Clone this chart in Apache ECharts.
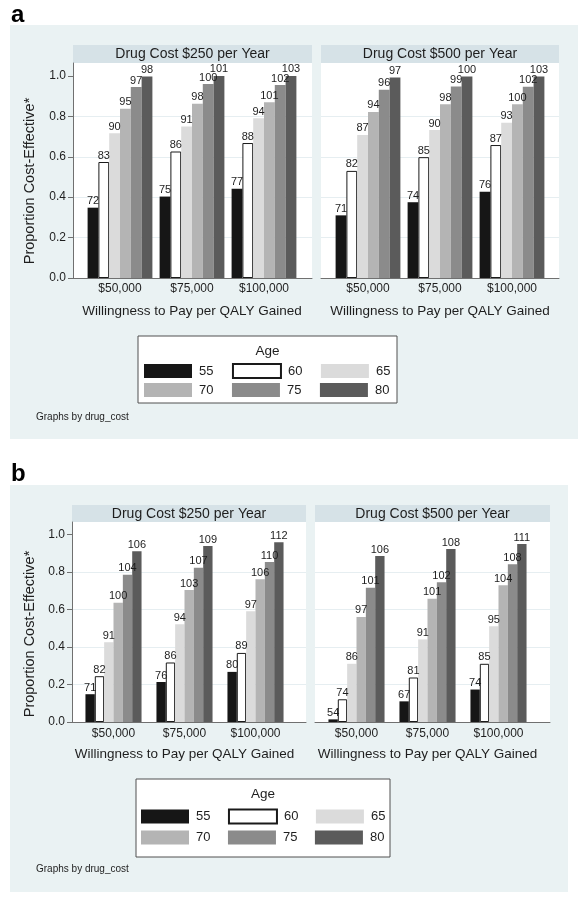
<!DOCTYPE html>
<html><head><meta charset="utf-8">
<script src="https://cdn.jsdelivr.net/npm/echarts@6/dist/echarts.min.js"></script>
<style>html,body{margin:0;padding:0;background:#fff}#c{width:588px;height:902px}</style>
</head><body><div id="c"></div>
<script>
const categories = ['$50,000', '$75,000', '$100,000'];
const ages = ['55', '60', '65', '70', '75', '80'];
const yTicks = [0, 0.2, 0.4, 0.6, 0.8, 1.0];
const facetTitles = ['Drug Cost $250 per Year', 'Drug Cost $500 per Year'];
const xTitle = 'Willingness to Pay per QALY Gained';
const yTitle = 'Proportion Cost-Effective*';
const legendTitle = 'Age';
const noteText = 'Graphs by drug_cost';

// one row per age (55..80), one value per WTP threshold
const a250Values = [
  [0.348, 0.403, 0.442],
  [0.574, 0.626, 0.668],
  [0.716, 0.750, 0.790],
  [0.838, 0.862, 0.870],
  [0.945, 0.960, 0.955],
  [0.997, 1.000, 1.000]
];
const a250Labels = [[72,75,77],[83,86,88],[90,91,94],[95,98,101],[97,100,102],[98,101,103]];
const a500Values = [
  [0.310, 0.375, 0.427],
  [0.530, 0.598, 0.658],
  [0.708, 0.732, 0.768],
  [0.822, 0.860, 0.860],
  [0.932, 0.948, 0.947],
  [0.992, 0.997, 0.997]
];
const a500Labels = [[71,74,76],[82,85,87],[87,90,93],[94,98,100],[96,99,102],[97,100,103]];
const b250Values = [
  [0.148, 0.213, 0.267],
  [0.244, 0.317, 0.368],
  [0.425, 0.521, 0.590],
  [0.635, 0.703, 0.760],
  [0.785, 0.822, 0.852],
  [0.910, 0.937, 0.957]
];
const b250Labels = [[71,76,80],[82,86,89],[91,94,97],[100,103,106],[104,107,110],[106,109,112]];
const b500Values = [
  [0.014, 0.110, 0.173],
  [0.121, 0.237, 0.310],
  [0.310, 0.440, 0.510],
  [0.560, 0.657, 0.728],
  [0.715, 0.745, 0.840],
  [0.884, 0.921, 0.948]
];
const b500Labels = [[54,67,74],[74,81,85],[86,91,95],[97,101,104],[101,102,108],[106,108,111]];

const ageColors = ['#161616', '#ffffff', '#dbdbdb', '#b4b4b4', '#8b8b8b', '#5b5b5b'];
const FONT = '"Liberation Sans", Arial, Helvetica, sans-serif';
const TXT = '#1e1e1e';
const AXIS = '#707070';

const panels = [
  { letter: 'a', letterY: 27, bg: [10, 25, 568, 414], stripTop: 45, stripH: 18, plotTop: 63, plotH: 215, yMax: 1.064,
    catGap: '10%', xNameGap: 26, xLabelMargin: 5,
    facets: [
      { values: a250Values, labels: a250Labels, title: facetTitles[0], bgLeft: 73, bgW: 239, barLeft: 84, barW: 216, showY: true },
      { values: a500Values, labels: a500Labels, title: facetTitles[1], bgLeft: 321, bgW: 238, barLeft: 332, barW: 216, showY: false }
    ],
    yTitleC: [30, 181],
    legendBox: [138, 336, 259, 67], legendTitleY: 351, legendRows: [363, 383], legendLeft: 144, legendGap: 18.5,
    noteY: 417 },
  { letter: 'b', letterY: 486, bg: [10, 485, 558, 407], stripTop: 505, stripH: 17, plotTop: 522, plotH: 200, yMax: 1.0655,
    catGap: '21%', xNameGap: 25, xLabelMargin: 6,
    facets: [
      { values: b250Values, labels: b250Labels, title: facetTitles[0], bgLeft: 72, bgW: 234, barLeft: 78, barW: 213, showY: true },
      { values: b500Values, labels: b500Labels, title: facetTitles[1], bgLeft: 315, bgW: 235, barLeft: 321, barW: 213, showY: false }
    ],
    yTitleC: [30, 634],
    legendBox: [136, 779, 254, 78], legendTitleY: 794, legendRows: [808.5, 830.5], legendLeft: 141, legendGap: 17.5,
    noteY: 869 }
];

const grid = [], xAxis = [], yAxis = [], series = [], legend = [], graphic = [];

panels.forEach(p => {
  graphic.push({ type: 'rect', z: -10, shape: { x: p.bg[0], y: p.bg[1], width: p.bg[2], height: p.bg[3] }, style: { fill: '#eaf2f3' } });
  graphic.push({ type: 'text', z: 10, x: 11, y: p.letterY, style: { text: p.letter, font: 'bold 24px ' + FONT, fill: '#000', verticalAlign: 'bottom', align: 'left' } });
  graphic.push({ type: 'text', z: 10, x: p.yTitleC[0], y: p.yTitleC[1], rotation: Math.PI / 2,
    style: { text: yTitle, font: '14.5px ' + FONT, fill: TXT, align: 'center', verticalAlign: 'middle' } });

  p.facets.forEach(f => {
    graphic.push({ type: 'rect', z: -9, shape: { x: f.bgLeft, y: p.plotTop, width: f.bgW, height: p.plotH }, style: { fill: '#ffffff' } });
    graphic.push({ type: 'rect', z: -9, shape: { x: f.bgLeft, y: p.stripTop, width: f.bgW, height: p.stripH }, style: { fill: '#d6e2e7' } });
    graphic.push({ type: 'text', z: 10, x: f.bgLeft + f.bgW / 2, y: p.stripTop + p.stripH / 2 + 0.5,
      style: { text: f.title, font: '14px ' + FONT, fill: TXT, align: 'center', verticalAlign: 'middle' } });

    // background grid: y axis, gridlines, baseline
    const gi = grid.length;
    grid.push({ left: f.bgLeft, top: p.plotTop, width: f.bgW, height: p.plotH, outerBoundsMode: 'none', containLabel: false });
    xAxis.push({ gridIndex: gi, type: 'value', min: 0, max: 1, axisLine: { show: true, onZero: false, lineStyle: { color: AXIS, width: 1 } },
      axisTick: { show: false }, axisLabel: { show: false }, splitLine: { show: false } });
    yAxis.push({ gridIndex: gi, type: 'value', min: 0, max: p.yMax, interval: 0.2,
      axisLine: { show: f.showY, lineStyle: { color: AXIS, width: 1 } },
      axisTick: { show: f.showY, length: 5, customValues: yTicks, lineStyle: { color: AXIS } },
      axisLabel: { show: f.showY, customValues: yTicks, margin: 7, fontSize: 12, fontFamily: FONT, color: TXT,
        formatter: v => v.toFixed(1) },
      splitLine: { show: true, showMinLine: false, showMaxLine: false, lineStyle: { color: '#e6eef1', width: 1 } } });

    // bar grid
    const bi = grid.length;
    grid.push({ left: f.barLeft, top: p.plotTop, width: f.barW, height: p.plotH, outerBoundsMode: 'none', containLabel: false });
    xAxis.push({ gridIndex: bi, type: 'category', data: categories,
      axisLine: { show: false }, axisTick: { show: false },
      axisLabel: { margin: p.xLabelMargin, fontSize: 12, fontFamily: FONT, color: TXT, interval: 0 },
      name: xTitle, nameLocation: 'middle', nameGap: p.xNameGap,
      nameTextStyle: { fontSize: 13.5, fontFamily: FONT, color: TXT } });
    yAxis.push({ gridIndex: bi, type: 'value', min: 0, max: p.yMax, show: false });

    ages.forEach((age, j) => {
      series.push({
        type: 'bar', name: age, xAxisIndex: bi, yAxisIndex: bi,
        data: f.values[j],
        barGap: '0%', barCategoryGap: p.catGap,
        itemStyle: { color: ageColors[j], borderColor: j === 1 ? '#1a1a1a' : ageColors[j], borderWidth: j === 1 ? 1 : 0 },
        label: { show: true, position: 'top', distance: 1, fontSize: 11, fontFamily: FONT, color: TXT,
          formatter: prm => String(f.labels[j][prm.dataIndex]) },
        emphasis: { disabled: true },
        silent: true, animation: false
      });
    });
  });

  // legend box
  const lb = p.legendBox;
  graphic.push({ type: 'rect', z: -8, shape: { x: lb[0], y: lb[1], width: lb[2], height: lb[3] }, style: { fill: '#ffffff', stroke: '#505050', lineWidth: 1 } });
  graphic.push({ type: 'text', z: 10, x: lb[0] + lb[2] / 2, y: p.legendTitleY,
    style: { text: legendTitle, font: '13.5px ' + FONT, fill: TXT, align: 'center', verticalAlign: 'middle' } });
  graphic.push({ type: 'text', z: 10, x: 36, y: p.noteY,
    style: { text: noteText, font: '10px ' + FONT, fill: TXT, align: 'left', verticalAlign: 'middle' } });

  [ages.slice(0, 3), ages.slice(3)].forEach((row, r) => {
    legend.push({
      data: row, left: p.legendLeft, top: p.legendRows[r], orient: 'horizontal',
      icon: 'rect', itemWidth: 48, itemHeight: 14, itemGap: p.legendGap, selectedMode: false, padding: 0,
      textStyle: { fontSize: 13, fontFamily: FONT, color: TXT, padding: [0, 0, 0, 2] }
    });
  });
});

const chart = echarts.init(document.getElementById('c'), null, { renderer: 'canvas' });
chart.setOption({
  animation: false,
  backgroundColor: '#ffffff',
  textStyle: { fontFamily: FONT },
  grid, xAxis, yAxis, series, legend, graphic
});
</script>
</body></html>
